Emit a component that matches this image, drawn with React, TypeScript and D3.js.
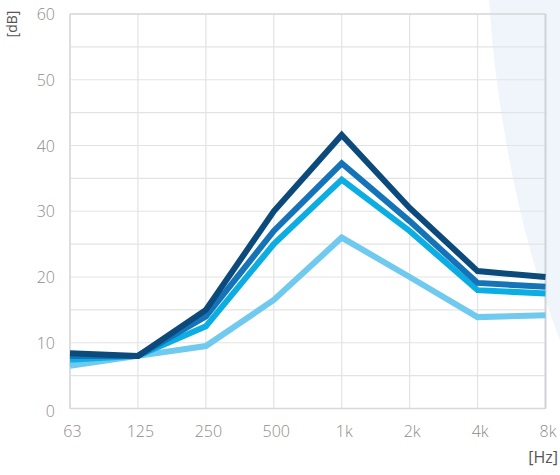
import React from "react";
import * as d3 from "d3";

const categories = ["63", "125", "250", "500", "1k", "2k", "4k", "8k"];
const yTicks = [0, 10, 20, 30, 40, 50, 60];
const gridTicks = [5, 15, 25, 35, 45, 55];
const seriesA = [8.4, 8.0, 15.0, 30.0, 41.6, 30.5, 20.9, 20.0];
const seriesB = [8.0, 8.0, 14.0, 27.0, 37.3, 28.5, 19.1, 18.5];
const seriesC = [7.4, 8.0, 12.5, 25.0, 34.8, 27.0, 18.0, 17.5];
const seriesD = [6.5, 8.0, 9.5, 16.5, 26.0, 20.0, 13.9, 14.2];
const seriesList = [seriesD, seriesC, seriesB, seriesA];
const colors = ["#70c9ef", "#0badE3", "#1573b8", "#0b4a7b"];

export default function App() {
  const W = 560, H = 475;
  const left = 70, right = 545.5, top = 14, bottom = 408.5;
  const x = d3.scalePoint<string>().domain(categories).range([left, right]);
  const y = d3.scaleLinear().domain([0, 60]).range([bottom, top]);
  const line = d3.line<number>().x((_, i) => x(categories[i])!).y((d) => y(d));
  const font = "'Open Sans', sans-serif";
  return (
    <svg width={W} height={H} style={{ position: "absolute", left: 0, top: 0 }}>
      <rect width={W} height={H} fill="#fff" />
      <path d="M489,0 C496,110 520,240 560,340 L560,0 Z" fill="#f0f5fb" />
      {[...yTicks, ...gridTicks].map((t) => (
        <line key={"h" + t} x1={left} x2={right} y1={y(t)} y2={y(t)} stroke="#e3e3e3" strokeWidth={1.2} />
      ))}
      {categories.map((c) => (
        <line key={"v" + c} x1={x(c)} x2={x(c)} y1={top} y2={bottom} stroke="#e3e3e3" strokeWidth={1.2} />
      ))}
      <line x1={left} x2={right} y1={top} y2={top} stroke="#d8d8d8" strokeWidth={1.5} />
      <line x1={left} x2={right} y1={bottom} y2={bottom} stroke="#d8d8d8" strokeWidth={1.5} />
      <line x1={left} x2={left} y1={top} y2={bottom} stroke="#d8d8d8" strokeWidth={1.5} />
      <line x1={right} x2={right} y1={top} y2={bottom} stroke="#cfd3d8" strokeWidth={2} />
      {seriesList.map((s, i) => (
        <path key={i} d={line(s)!} fill="none" stroke={colors[i]} strokeWidth={6} strokeLinejoin="miter" />
      ))}
      {yTicks.map((t) => (
        <text key={"yl" + t} x={55} y={y(t) + (t === 0 ? 8 : 6)} textAnchor="end" fontFamily={font} fontSize={16} fill="#8c8c8c" fontWeight={300}>
          {t}
        </text>
      ))}
      {categories.map((c) => (
        <text key={"xl" + c} x={x(c)! + 2.5} y={437} textAnchor="middle" fontFamily={font} fontSize={16} fill="#8c8c8c" fontWeight={300}>
          {c}
        </text>
      ))}
      <text x={558} y={463} textAnchor="end" fontFamily={font} fontSize={16} fill="#555">
        [Hz]
      </text>
      <text transform="translate(17,24) rotate(-90)" textAnchor="middle" fontFamily={font} fontSize={14} fill="#555">
        [dB]
      </text>
    </svg>
  );
}
